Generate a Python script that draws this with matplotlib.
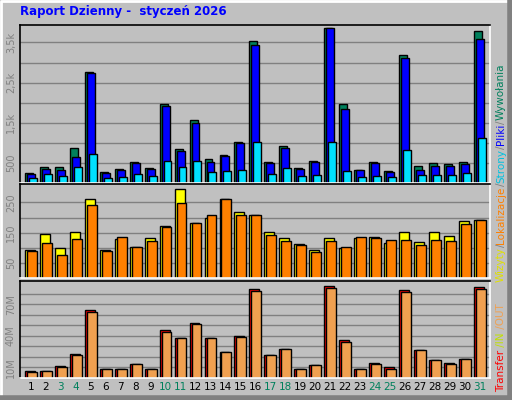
import matplotlib
matplotlib.use("Agg")
import matplotlib.pyplot as plt
import numpy as np

days = list(range(1, 32))
weekend = [3, 4, 10, 11, 17, 18, 24, 25, 31]
hits  = [254,398,398,880,2760,271,356,525,372,1956,855,1566,601,703,1033,3548,525,931,372,550,3860,1973,322,525,296,3175,423,500,474,525,3776]
files = [212,347,330,652,2735,245,330,500,347,1922,787,1499,525,677,1008,3429,500,880,347,525,3850,1846,322,500,271,3116,322,423,423,474,3573]
pages = [127,220,169,398,728,118,144,220,169,550,398,550,271,296,322,1033,220,372,169,195,1033,296,144,169,144,830,195,195,195,245,1109]
visits = [93,147,100,153,260,93,130,103,133,173,293,183,200,260,217,210,153,133,113,93,133,100,133,137,117,153,120,153,140,190,193]
sites  = [90,117,77,130,240,90,137,103,123,170,247,183,210,263,210,210,143,123,110,87,123,103,137,133,127,127,110,127,123,180,193]
kin  = [7.1,7.1,11,22.6,64.2,8.1,8.1,12.9,8.1,45.8,38.1,52.6,38.1,24.5,40,84.5,21.6,27.4,8.1,11.9,87.4,36.1,8.1,13.9,10,83.5,26.5,16.8,13.9,17.7,86.5]
kout = [5.8,7.1,10,21.6,62.3,8.1,8.1,12.9,8.1,43.9,38.1,51.6,38.1,24.5,39,82.6,21.6,27.4,8.1,11.9,85.5,34.2,8.1,12.9,9,81.6,26.5,16.8,12.9,17.7,84.5]

BG = "#c0c0c0"
fig = plt.figure(figsize=(5.12, 4.0), dpi=100, facecolor=BG)
W, H = 512, 400

def ax_px(x0, y0, x1, y1):
    return fig.add_axes([x0 / W, 1 - y1 / H, (x1 - x0) / W, (y1 - y0) / H])

x = np.array(days, dtype=float)
def style(ax, ymax, grid, labels, labtxt):
    ax.set_facecolor(BG)
    ax.set_xlim(0.5, 31.9)
    ax.set_ylim(0, ymax)
    ax.set_xticks([])
    for g in grid:
        ax.axhline(g, color="#808080", lw=1, zorder=0)
    ax.set_yticks(labels)
    ax.set_yticklabels(labtxt, rotation=90, va="center", color="#808080", fontsize=7)
    ax.tick_params(axis="y", length=0, pad=3)
    for s in ax.spines.values():
        s.set_color("black"); s.set_linewidth(1.2)
    ax.spines["bottom"].set_color("white"); ax.spines["right"].set_color("white")

kw = dict(align="edge", edgecolor="black", linewidth=1, zorder=2)
ax1 = ax_px(20, 25, 490, 183)
ax1.bar(x - 0.17, hits, 0.53, color="#00805c", **kw)
ax1.bar(x - 0.04, files, 0.53, color="#0000ff", **kw)
ax1.bar(x + 0.09, pages, 0.53, color="#00e0ff", **kw)
style(ax1, 3934, range(500, 3600, 500), [500, 1500, 2500, 3500], ["500", "1,5k", "2,5k", "3,5k"])

ax2 = ax_px(20, 184, 490, 278)
ax2.bar(x - 0.17, visits, 0.66, color="#ffff00", **kw)
ax2.bar(x - 0.04, sites, 0.66, color="#ff8000", **kw)
style(ax2, 311, range(50, 260, 50), [50, 150, 250], ["50", "150", "250"])

ax3 = ax_px(20, 281, 490, 378)
ax3.bar(x - 0.17, kin, 0.66, color="#ff0000", **kw)
ax3.bar(x - 0.04, kout, 0.66, color="#f0a050", **kw)
style(ax3, 92, range(10, 90, 10), [10, 40, 70], ["10M", "40M", "70M"])
for d in days:
    ax3.text(d + 0.22, -4, str(d), ha="center", va="top", fontsize=7.5,
             color="#00805c" if d in weekend else "black", clip_on=False)

fig.text(20 / W, 1 - 12 / H, "Raport Dzienny -  styczeń 2026", color="#0000ff",
         fontsize=8.5, fontweight="bold", va="center", ha="left")

fig.add_artist(plt.Line2D([0.002, 0.002, 0.998], [0.002, 0.998, 0.998], color="white", lw=2, transform=fig.transFigure))
fig.add_artist(plt.Line2D([0.003, 0.996, 0.996], [0.004, 0.004, 0.998], color="#808080", lw=4, transform=fig.transFigure))

fig.canvas.draw()
r = fig.canvas.get_renderer()
def chain(parts, ystart, xpx=501):
    y = ystart
    for txt, col in parts:
        t = fig.text(xpx / W, 1 - y / H, txt, color=col, rotation=90, fontsize=7.5,
                     ha="center", va="bottom")
        bb = t.get_window_extent(r)
        y -= bb.height
chain([("Transfer", "#ff0000"), (" /IN", "#c0e000"), (" /OUT", "#f0a050")], 392)
chain([("Wizyty", "#e0e000"), ("/", "#808080"), ("Lokalizacje", "#ff8000"), ("/", "#808080"),
       ("Strony", "#00c0e0"), ("/", "#808080"), ("Pliki", "#0000ff"), ("/", "#808080"),
       ("Wywołania", "#00805c")], 282)

fig.savefig("out.png", dpi=100, facecolor=BG)
